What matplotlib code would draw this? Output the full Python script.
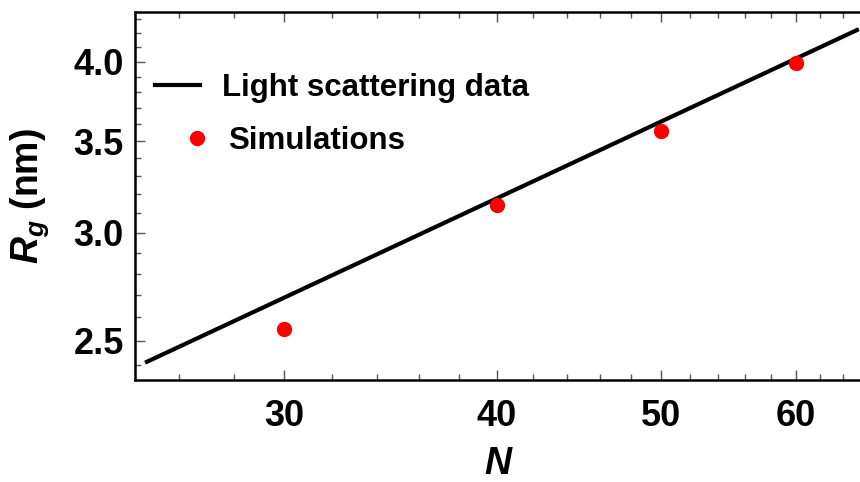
import numpy as np
import matplotlib
matplotlib.use("Agg")
import matplotlib.pyplot as plt
from matplotlib.ticker import FixedLocator, NullFormatter, FixedFormatter

plt.rcParams['font.family'] = ['Liberation Sans', 'DejaVu Sans']
plt.rcParams['font.weight'] = 'bold'
plt.rcParams['axes.labelweight'] = 'bold'
plt.rcParams['mathtext.fontset'] = 'custom'
plt.rcParams['mathtext.it'] = 'Liberation Sans:bold:italic'
plt.rcParams['mathtext.bf'] = 'Liberation Sans:bold'
plt.rcParams['mathtext.rm'] = 'Liberation Sans:bold'

# light scattering fit line (end points, log-log straight line)
N_line = [24.9, 65.2]
Rg_line = [2.413, 4.22]

# simulations
N_sim = [30, 40, 50, 60]
Rg_sim = [2.551, 3.145, 3.56, 3.99]

x_major = [30, 40, 50, 60]
x_minor = [24, 26, 28, 32, 34, 36, 38, 42, 44, 46, 48, 52, 54, 56, 58, 62, 64]
y_major = [2.5, 3.0, 3.5, 4.0]
y_minor = [2.4, 2.6, 2.7, 2.8, 2.9, 3.1, 3.2, 3.3, 3.4, 3.6, 3.7, 3.8, 3.9, 4.1, 4.2, 4.3]

fig = plt.figure(figsize=(8.6, 4.82), dpi=100)
ax = fig.add_axes([0.157, 0.2116, 0.846, 0.7634])

line, = ax.plot(N_line, Rg_line, color='black', lw=3.0)
pts, = ax.plot(N_sim, Rg_sim, 'o', color='#ff0000', ms=10)

ax.set_xscale('log')
ax.set_yscale('log')
ax.set_xlim(24.5, 65.7)
ax.set_ylim(2.34, 4.35)

ax.xaxis.set_major_locator(FixedLocator(x_major))
ax.xaxis.set_major_formatter(FixedFormatter([str(v) for v in x_major]))
ax.xaxis.set_minor_locator(FixedLocator(x_minor))
ax.xaxis.set_minor_formatter(NullFormatter())
ax.yaxis.set_major_locator(FixedLocator(y_major))
ax.yaxis.set_major_formatter(FixedFormatter(['%.1f' % v for v in y_major]))
ax.yaxis.set_minor_locator(FixedLocator(y_minor))
ax.yaxis.set_minor_formatter(NullFormatter())

ax.tick_params(which='both', direction='in', top=True, right=False, labelsize=26,
               color='#555555', width=1)
ax.tick_params(which='major', length=7)
ax.tick_params(axis='x', which='major', pad=14)
ax.tick_params(axis='y', which='major', pad=8)
ax.tick_params(which='minor', length=4)
for s in ax.spines.values():
    s.set_linewidth(1.8)

ax.set_xlabel(r'$\mathit{N}$', fontsize=27)
ax.xaxis.set_label_coords(0.5, -0.178)
ax.set_ylabel(r'$\mathit{R_g}$ (nm)', fontsize=27, fontweight='bold')
ax.yaxis.set_label_coords(-0.115, 0.5)

leg1 = ax.legend([line], ['Light scattering data'], loc='center left',
                 bbox_to_anchor=(0.0275, 0.7935), borderpad=0, borderaxespad=0,
                 frameon=False, fontsize=22.5, handlelength=1.44, handletextpad=0.7)
ax.add_artist(leg1)
ax.legend([pts], ['Simulations'], loc='center left',
          bbox_to_anchor=(0.073, 0.6495), borderpad=0, borderaxespad=0,
          frameon=False, fontsize=22.5, handlelength=0.58, handletextpad=0.7)

fig.savefig('out.png', dpi=100)
